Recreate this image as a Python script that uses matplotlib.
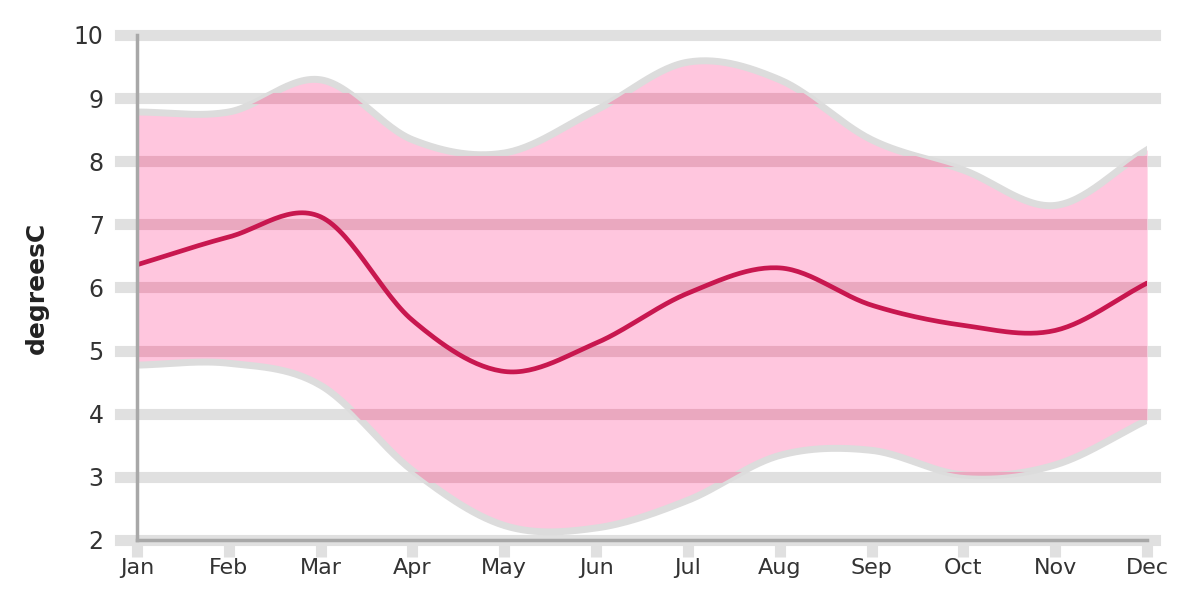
import numpy as np
import matplotlib.pyplot as plt
from matplotlib.path import Path
from matplotlib.patches import PathPatch

months = ['Jan', 'Feb', 'Mar', 'Apr', 'May', 'Jun',
          'Jul', 'Aug', 'Sep', 'Oct', 'Nov', 'Dec']
temp_mean = [6.36, 6.80, 7.12, 5.48, 4.67, 5.12, 5.91, 6.31, 5.72, 5.40, 5.32, 6.07]
temp_high = [8.78, 8.78, 9.29, 8.34, 8.13, 8.81, 9.57, 9.29, 8.34, 7.86, 7.30, 8.18]
temp_low = [4.77, 4.80, 4.45, 3.10, 2.23, 2.19, 2.63, 3.34, 3.42, 3.03, 3.19, 3.90]
y_ticks = [2, 3, 4, 5, 6, 7, 8, 9, 10]


def spline(x, y, n=30):
    # cardinal (Catmull-Rom) curve through the monthly points
    x = np.asarray(x, float)
    y = np.asarray(y, float)
    m = np.gradient(y, x)
    xs, ys = [], []
    for i in range(len(x) - 1):
        h = x[i + 1] - x[i]
        t = np.linspace(0, 1, n, endpoint=False)
        h00 = 2 * t**3 - 3 * t**2 + 1
        h10 = t**3 - 2 * t**2 + t
        h01 = -2 * t**3 + 3 * t**2
        h11 = t**3 - t**2
        xs.append(x[i] + t * h)
        ys.append(h00 * y[i] + h10 * h * m[i] + h01 * y[i + 1] + h11 * h * m[i + 1])
    xs.append([x[-1]])
    ys.append([y[-1]])
    return np.concatenate(xs), np.concatenate(ys)


x = np.arange(len(months))
xs, mean_s = spline(x, temp_mean)
_, high_s = spline(x, temp_high)
_, low_s = spline(x, temp_low)

fig = plt.figure(figsize=(11.85, 5.89), dpi=100)
ax = fig.add_axes([0.1156, 0.0832, 0.8524, 0.8574])

grid_gray = '#e0e0e0'
for v in y_ticks:
    ax.axhline(v, xmin=-0.017, xmax=1.008, color=grid_gray, lw=8,
               clip_on=False, zorder=0)

band = ax.fill_between(xs, low_s, high_s, color='#ffc6de', lw=0, zorder=1)
ax.plot(xs, high_s, color='#dcdcdc', lw=5, zorder=1.5)
ax.plot(xs, low_s, color='#dcdcdc', lw=5, zorder=1.5)

# grid lines show through the band in a darker pink
verts = np.vstack([np.column_stack([xs, high_s]),
                   np.column_stack([xs[::-1], low_s[::-1]])])
clip = PathPatch(Path(verts), transform=ax.transData, visible=False)
ax.add_patch(clip)
for v in y_ticks:
    ln = ax.axhline(v, color='#eaa8bf', lw=8, zorder=2)
    ln.set_clip_path(clip)

ax.plot(xs, mean_s, color='#c8174f', lw=3.4, zorder=3, solid_capstyle='round')

ax.set_xlim(0, 11)
ax.set_ylim(2, 10)
ax.set_xticks(x)
ax.set_xticklabels(months)
ax.set_yticks(y_ticks)

for s in ['top', 'right']:
    ax.spines[s].set_visible(False)
for s in ['left', 'bottom']:
    ax.spines[s].set_color('#a8a8a8')
    ax.spines[s].set_linewidth(2.5)
    ax.spines[s].set_zorder(4)

ax.tick_params(axis='x', length=12, width=8, color=grid_gray,
               labelsize=16, labelcolor='#333333', pad=1)
ax.tick_params(axis='y', length=0, labelsize=17, labelcolor='#333333', pad=24)
ax.set_ylabel('degreesC', fontsize=18, fontweight='bold', color='#222222',
              labelpad=18)

plt.savefig('out.png', dpi=100)
